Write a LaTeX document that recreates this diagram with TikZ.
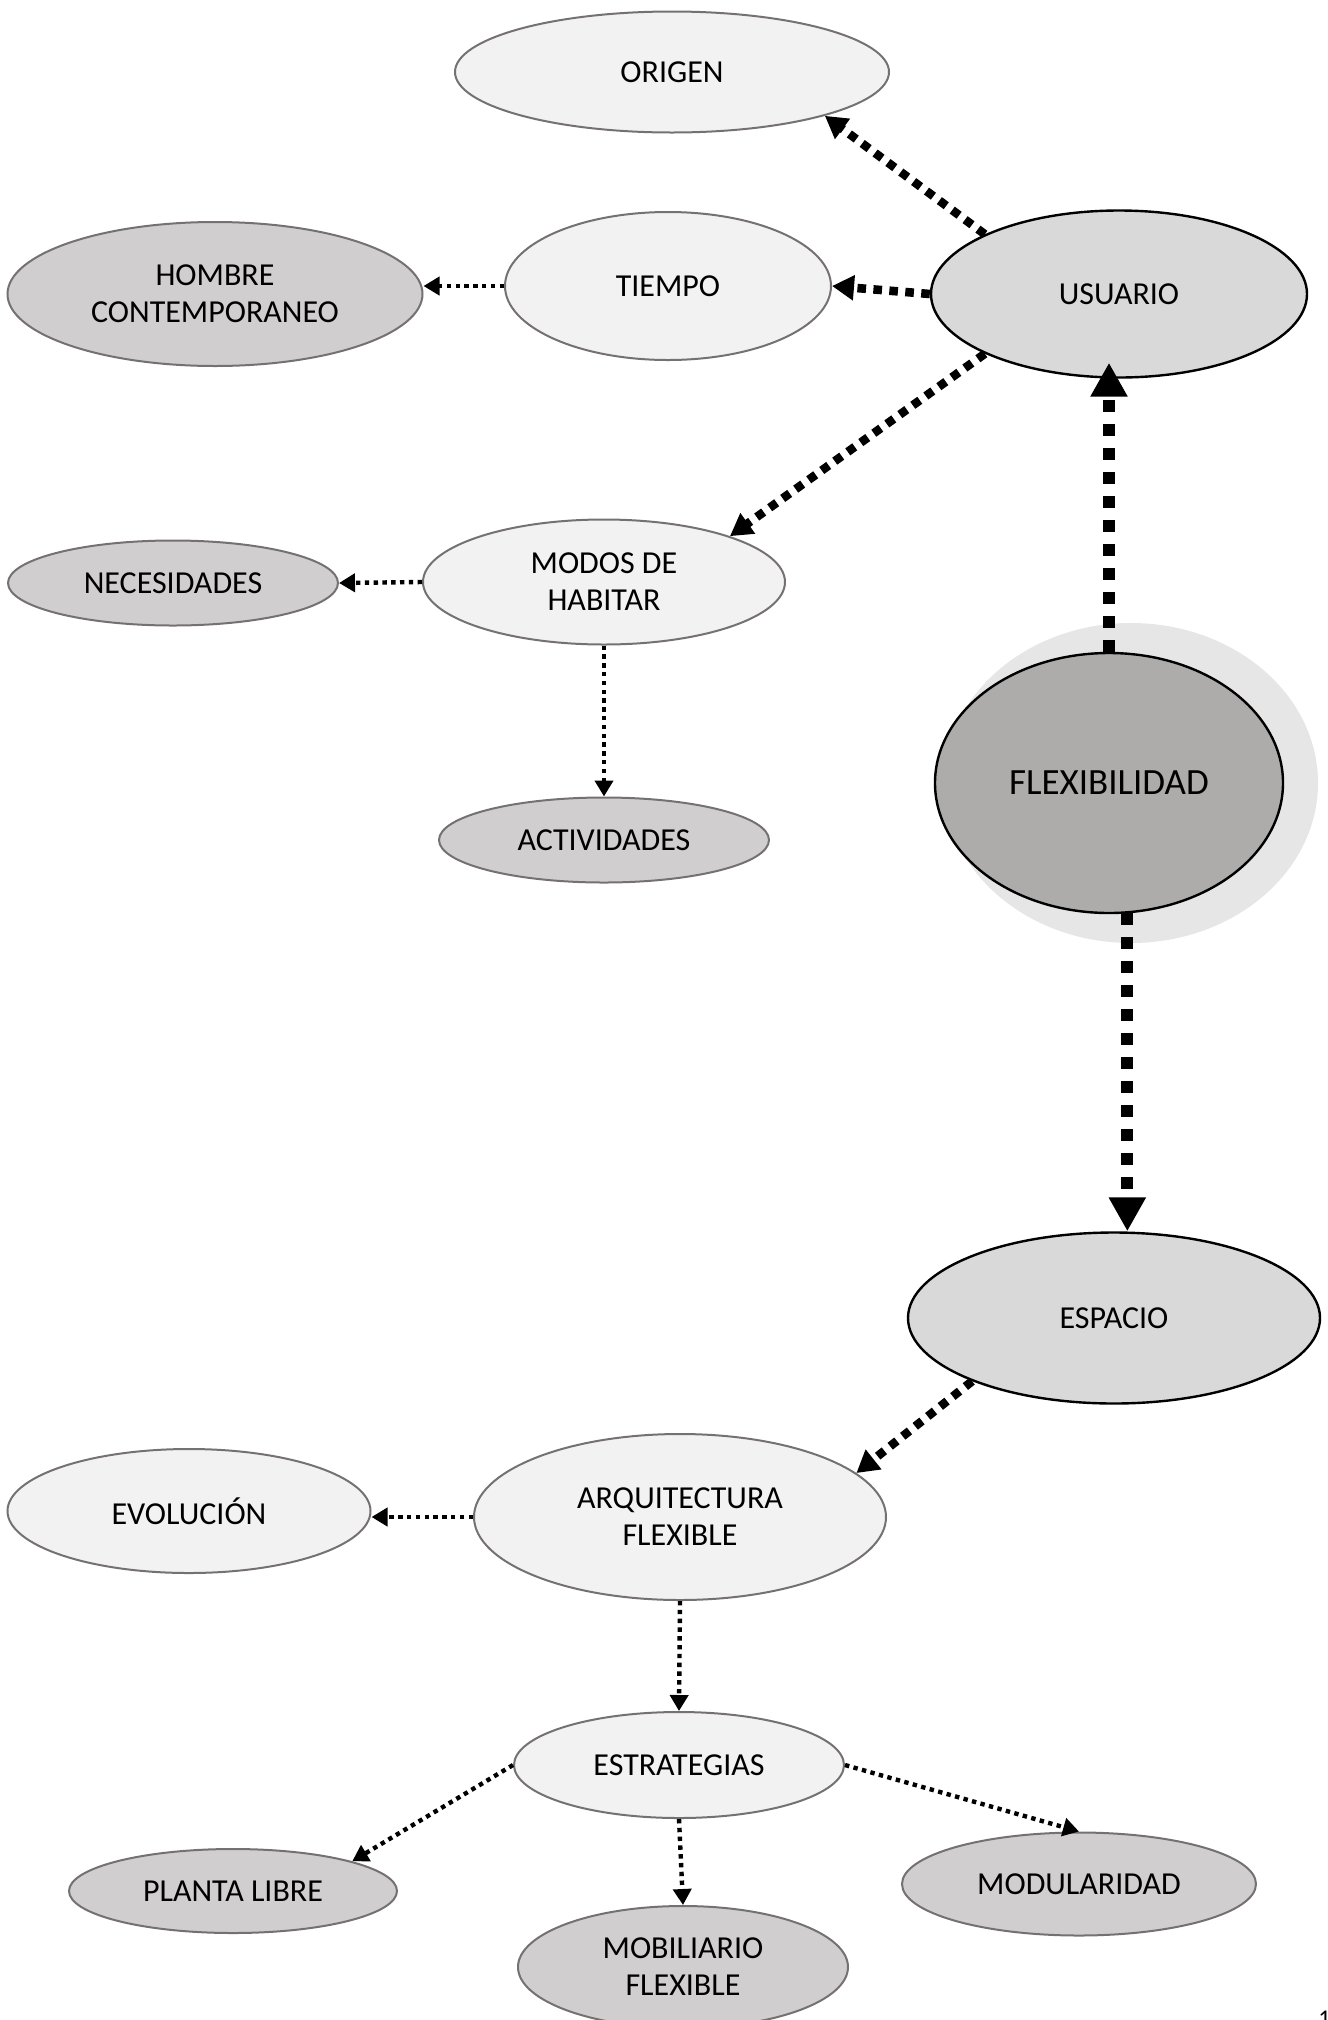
\documentclass[tikz,border=0pt]{standalone}
\usepackage{fontspec}
\setmainfont{Carlito}
\usepackage{tikz}
\usetikzlibrary{arrows.meta,shapes.geometric}
\definecolor{rim}{HTML}{767171}
\definecolor{pale}{HTML}{F2F2F2}
\definecolor{mid}{HTML}{D0CECE}
\definecolor{soft}{HTML}{D9D9D9}
\definecolor{core}{HTML}{AEABAB}
\definecolor{halo}{HTML}{E7E6E6}

\begin{document}
\begin{tikzpicture}[x=0.5pt,y=-0.5pt,
 e/.style={ellipse,draw=rim,line width=1pt,inner sep=0pt,align=center,font=\fontsize{16}{18.5}\selectfont},
 lt/.style={e,fill=pale},
 md/.style={e,fill=mid},
 hub/.style={e,draw=black,line width=1.2pt,fill=soft},
 dt/.style={-{Triangle[length=8pt,width=9pt]},line width=2.2pt,dash pattern=on 2.2pt off 2.2pt},
 dk/.style={-{Triangle[length=11pt,width=12pt]},line width=4.3pt,dash pattern=on 4.3pt off 3.7pt},
 dx/.style={-{Triangle[length=17pt,width=17.5pt]},line width=6pt,dash pattern=on 6pt off 6pt}]
 \useasboundingbox (0,0) rectangle (1328,2020);
 % upper branch
 \node[lt,minimum width=217pt,minimum height=60.5pt] (origen) at (672,72) {ORIGEN};
 \node[md,minimum width=207.5pt,minimum height=72pt] (hombre) at (215,294) {HOMBRE\\CONTEMPORANEO};
 \node[lt,minimum width=163pt,minimum height=74pt] (tiempo) at (668,286) {TIEMPO};
 \node[hub,minimum width=188pt,minimum height=83.5pt] (usuario) at (1119,294) {USUARIO};
 \node[md,minimum width=165pt,minimum height=42.5pt] (necesidades) at (173,583) {NECESIDADES};
 \node[lt,minimum width=181pt,minimum height=62.5pt] (modos) at (604,582) {MODOS DE\\HABITAR};
 \node[md,minimum width=165pt,minimum height=42.5pt] (actividades) at (604,840) {ACTIVIDADES};
 % centre
 \node[ellipse,fill=halo,inner sep=0pt,minimum width=187pt,minimum height=160pt] (flexhalo) at (1131,783) {};
 \node[hub,fill=core,minimum width=174pt,minimum height=130pt,font=\fontsize{18.5}{22}\selectfont] (flex) at (1109,783) {FLEXIBILIDAD};
 % lower branch
 \node[hub,minimum width=206pt,minimum height=85.5pt] (espacio) at (1114,1318) {ESPACIO};
 \node[lt,minimum width=181.5pt,minimum height=62pt] (evolucion) at (189,1511) {EVOLUCIÓN};
 \node[lt,minimum width=206pt,minimum height=83pt] (arq) at (680,1517) {ARQUITECTURA\\FLEXIBLE};
 \node[lt,minimum width=165pt,minimum height=53pt] (estrategias) at (679,1765) {ESTRATEGIAS};
 \node[md,minimum width=164pt,minimum height=42pt] (planta) at (233,1891) {PLANTA LIBRE};
 \node[md,minimum width=165pt,minimum height=61pt] (mobiliario) at (683,1967) {MOBILIARIO\\FLEXIBLE};
 \node[md,minimum width=177pt,minimum height=51.5pt] (modularidad) at (1079,1884) {MODULARIDAD};
 \node[anchor=base west,inner sep=0pt,font=\fontsize{12}{14}\selectfont] (pagenum) at (1318,2026) {1};
 % connectors
 \draw[dk] (usuario.156) -- (origen.-16);
 \draw[dk] (usuario.west) -- (tiempo.east);
 \draw[dk] (usuario.204) -- (modos.20);
 \draw[dt] (tiempo.west) -- (tiempo.west -| hombre.east);
 \draw[dt] (modos.west) -- (necesidades.east);
 \draw[dt] (modos.south) -- (actividades.north);
 \draw[dx,shorten >=-8pt] (flex.north) -- (flex.north |- usuario.south);
 \draw[dx] (flex.-82) -- (flex.-82 |- espacio.north);
 \draw[dk] (espacio.204) -- (arq.14);
 \draw[dt] (arq.west) -- (arq.west -| evolucion.east);
 \draw[dt] (arq.south) -- (estrategias.north);
 \draw[dt] (estrategias.west) -- (planta.14);
 \draw[dt] (estrategias.south) -- (mobiliario.north);
 \draw[dt] (estrategias.east) -- (modularidad.north);
\end{tikzpicture}
\end{document}
